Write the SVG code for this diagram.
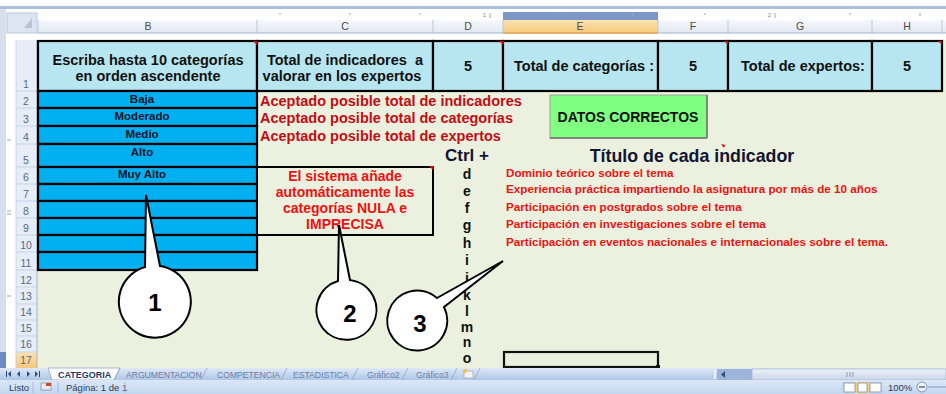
<svg xmlns="http://www.w3.org/2000/svg" width="946" height="394" viewBox="0 0 946 394">
<style>
text{font-family:"Liberation Sans",Arial,sans-serif}
.hdr{font-size:10.5px;fill:#4a4a4a;text-anchor:middle}
.rn{font-size:10.5px;fill:#586a86;text-anchor:middle}
.h1{font-size:14.5px;font-weight:bold;fill:#111;text-anchor:middle}
.cat{font-size:11.5px;font-weight:bold;fill:#141428;text-anchor:middle}
.ok{font-size:14.5px;font-weight:bold;fill:#c40c14}
.box{font-size:14px;font-weight:bold;fill:#ee1111;text-anchor:middle}
.ind{font-size:11.7px;font-weight:bold;fill:#ee1111}
.key{font-size:14px;font-weight:bold;fill:#111;text-anchor:middle}
.big{font-weight:bold;fill:#141432}
.num{font-size:24px;font-weight:bold;fill:#000;text-anchor:middle}
.tab{font-size:8.6px;fill:#6b7fa6}
.st{font-size:9.5px;fill:#2b3d5c}
.cell{stroke:#000;stroke-width:2.2}
.call{fill:#fff;stroke:#000;stroke-width:2;stroke-linejoin:miter}
.mark{fill:#e00}
</style>
<defs>
<linearGradient id="gh" x1="0" y1="0" x2="0" y2="1"><stop offset="0" stop-color="#f6f8fc"/><stop offset="1" stop-color="#e1e8f2"/></linearGradient>
<linearGradient id="go" x1="0" y1="0" x2="0" y2="1"><stop offset="0" stop-color="#fbe3b0"/><stop offset="1" stop-color="#f7c87a"/></linearGradient>
<linearGradient id="gt" x1="0" y1="0" x2="0" y2="1"><stop offset="0" stop-color="#dfe9f6"/><stop offset="1" stop-color="#aec6e6"/></linearGradient>
<linearGradient id="gs" x1="0" y1="0" x2="0" y2="1"><stop offset="0" stop-color="#dbe7f7"/><stop offset="1" stop-color="#c3d6ef"/></linearGradient>
<linearGradient id="gb" x1="0" y1="0" x2="0" y2="1"><stop offset="0" stop-color="#eef2f8"/><stop offset="1" stop-color="#c9d6e8"/></linearGradient>
</defs>

<!-- window chrome -->
<g id="chrome">
<rect x="0" y="0" width="946" height="394" fill="#fff"/>
<rect x="0" y="6" width="946" height="3" fill="#a9c0de"/>
<rect x="0" y="9" width="6" height="360" fill="#d6dfeb"/>
<!-- ruler -->
<rect x="37" y="12" width="909" height="8" fill="#fff"/>
<rect x="503" y="12" width="155" height="8" fill="#7d98c6"/>
<g stroke="#9aa" stroke-width="1">
<line x1="280" y1="13" x2="280" y2="15"/><line x1="350" y1="13" x2="350" y2="15"/><line x1="420" y1="13" x2="420" y2="15"/>
<line x1="490" y1="13" x2="490" y2="18"/><line x1="560" y1="13" x2="560" y2="15"/><line x1="633" y1="13" x2="633" y2="16"/>
<line x1="705" y1="13" x2="705" y2="15"/><line x1="775" y1="13" x2="775" y2="18"/><line x1="850" y1="13" x2="850" y2="15"/><line x1="920" y1="13" x2="920" y2="16"/>
</g>
<text x="486" y="17" style="font-size:6px;fill:#888;text-anchor:end">1</text>
<text x="771" y="17" style="font-size:6px;fill:#888;text-anchor:end">2</text>
<!-- corner -->
<rect x="7" y="13" width="30" height="20" fill="#dde5f0" stroke="#b7c7dc"/>
<path d="M32,18 L32,28 L24,28 Z" fill="#b6c4d8"/>
<!-- column headers -->
<rect x="37" y="20" width="909" height="13" fill="url(#gh)"/>
<rect x="503" y="20" width="155" height="13" fill="url(#go)"/>
<line x1="37" y1="33" x2="946" y2="33" stroke="#9eb6ce"/>
<line x1="503" y1="33" x2="658" y2="33" stroke="#f2a64a" stroke-width="1.5"/>
<g stroke="#b8c9dd" stroke-width="1">
<line x1="38" y1="20" x2="38" y2="33"/><line x1="257" y1="20" x2="257" y2="33"/><line x1="433" y1="20" x2="433" y2="33"/>
<line x1="503" y1="20" x2="503" y2="33"/><line x1="658" y1="20" x2="658" y2="33"/><line x1="728" y1="20" x2="728" y2="33"/>
<line x1="872" y1="20" x2="872" y2="33"/><line x1="942" y1="20" x2="942" y2="33"/>
</g>
<text class="hdr" x="148" y="30">B</text>
<text class="hdr" x="345" y="30">C</text>
<text class="hdr" x="468" y="30">D</text>
<text class="hdr" x="580" y="30">E</text>
<text class="hdr" x="693" y="30">F</text>
<text class="hdr" x="800" y="30">G</text>
<text class="hdr" x="907" y="30">H</text>
<!-- sheet background -->
<rect x="37" y="40" width="909" height="328" fill="#ebf1de"/>
<!-- row headers -->
<rect x="16" y="40" width="21" height="328" fill="#e6edf7"/>
<rect x="16" y="352" width="21" height="16" fill="url(#go)"/>
<rect x="0" y="352" width="6" height="16" fill="#6e8cc4"/>
<line x1="37" y1="40" x2="37" y2="368" stroke="#9eb6ce"/>
<line x1="16" y1="40" x2="16" y2="368" stroke="#c5d4e6"/>
<g stroke="#c5d4e6" stroke-width="1">
<line x1="16" y1="91" x2="37" y2="91"/><line x1="16" y1="108" x2="37" y2="108"/><line x1="16" y1="126" x2="37" y2="126"/>
<line x1="16" y1="144" x2="37" y2="144"/><line x1="16" y1="167" x2="37" y2="167"/><line x1="16" y1="184" x2="37" y2="184"/>
<line x1="16" y1="201" x2="37" y2="201"/><line x1="16" y1="218" x2="37" y2="218"/><line x1="16" y1="235" x2="37" y2="235"/>
<line x1="16" y1="252" x2="37" y2="252"/><line x1="16" y1="270" x2="37" y2="270"/><line x1="16" y1="287" x2="37" y2="287"/>
<line x1="16" y1="304" x2="37" y2="304"/><line x1="16" y1="320" x2="37" y2="320"/><line x1="16" y1="336" x2="37" y2="336"/>
<line x1="16" y1="352" x2="37" y2="352"/>
</g>
<g stroke="#8aa" stroke-width="1">
<line x1="7" y1="140" x2="11" y2="140"/><line x1="7" y1="211" x2="11" y2="211"/><line x1="7" y1="214" x2="11" y2="214"/><line x1="7" y1="296" x2="11" y2="296"/>
</g>
<text class="rn" x="26" y="88">1</text>
<text class="rn" x="26" y="105">2</text>
<text class="rn" x="26" y="123">3</text>
<text class="rn" x="26" y="141">4</text>
<text class="rn" x="26" y="164">5</text>
<text class="rn" x="26" y="181">6</text>
<text class="rn" x="26" y="198">7</text>
<text class="rn" x="26" y="215">8</text>
<text class="rn" x="26" y="232">9</text>
<text class="rn" x="26" y="249">10</text>
<text class="rn" x="26" y="267">11</text>
<text class="rn" x="26" y="284">12</text>
<text class="rn" x="26" y="300">13</text>
<text class="rn" x="26" y="316">14</text>
<text class="rn" x="26" y="332">15</text>
<text class="rn" x="26" y="348">16</text>
<text class="rn" x="26" y="364">17</text>
</g>

<!-- header row cells -->
<g id="row1">
<rect class="cell" x="38" y="41" width="219" height="50" fill="#b7e6f0"/>
<rect class="cell" x="257" y="41" width="176" height="50" fill="#b7e6f0"/>
<rect class="cell" x="433" y="41" width="70" height="50" fill="#b7e6f0"/>
<rect class="cell" x="503" y="41" width="155" height="50" fill="#b7e6f0"/>
<rect class="cell" x="658" y="41" width="70" height="50" fill="#b7e6f0"/>
<rect class="cell" x="728" y="41" width="144" height="50" fill="#b7e6f0"/>
<rect class="cell" x="872" y="41" width="70" height="50" fill="#b7e6f0"/>
<text class="h1" x="148" y="65">Escriba hasta 10 categorías</text>
<text class="h1" x="148" y="81">en orden ascendente</text>
<text class="h1" x="345" y="65">Total de indicadores&#160; a</text>
<text class="h1" x="342" y="81">valorar en los expertos</text>
<text class="h1" x="468" y="71">5</text>
<text class="h1" x="584" y="71">Total de categorías :</text>
<text class="h1" x="693" y="71">5</text>
<text class="h1" x="803" y="71">Total de expertos:</text>
<text class="h1" x="907" y="71">5</text>
<path class="mark" d="M253,41 L257,41 L257,45 Z"/>
<path class="mark" d="M499,41 L503,41 L503,45 Z"/>
<path class="mark" d="M724,41 L728,41 L728,45 Z"/>
<path class="mark" d="M938,41 L942,41 L942,45 Z"/>
</g>

<!-- categories column -->
<g id="categorias">
<rect class="cell" x="38" y="91" width="219" height="17" fill="#00b0f0"/>
<rect class="cell" x="38" y="108" width="219" height="18" fill="#00b0f0"/>
<rect class="cell" x="38" y="126" width="219" height="18" fill="#00b0f0"/>
<rect class="cell" x="38" y="144" width="219" height="23" fill="#00b0f0"/>
<rect class="cell" x="38" y="167" width="219" height="17" fill="#00b0f0"/>
<rect class="cell" x="38" y="184" width="219" height="17" fill="#00b0f0"/>
<rect class="cell" x="38" y="201" width="219" height="17" fill="#00b0f0"/>
<rect class="cell" x="38" y="218" width="219" height="17" fill="#00b0f0"/>
<rect class="cell" x="38" y="235" width="219" height="17" fill="#00b0f0"/>
<rect class="cell" x="38" y="252" width="219" height="18" fill="#00b0f0"/>
<text class="cat" x="142" y="103">Baja</text>
<text class="cat" x="142" y="120">Moderado</text>
<text class="cat" x="142" y="138">Medio</text>
<text class="cat" x="142" y="156">Alto</text>
<text class="cat" x="142" y="178">Muy Alto</text>
</g>

<!-- validation messages -->
<g id="mensajes">
<text class="ok" x="260" y="106">Aceptado posible total de indicadores</text>
<text class="ok" x="260" y="123">Aceptado posible total de categorías</text>
<text class="ok" x="260" y="141">Aceptado posible total de expertos</text>
</g>

<!-- button -->
<g id="boton">
<rect x="550" y="95" width="157" height="43" fill="#80ff80" stroke="#a0a0a0" stroke-width="1"/>
<line x1="707" y1="95" x2="707" y2="138" stroke="#707070" stroke-width="1.5"/>
<line x1="550" y1="138" x2="707" y2="138" stroke="#707070" stroke-width="1.5"/>
<text x="628" y="122" style="font-size:14px;font-weight:bold;fill:#111;text-anchor:middle">DATOS CORRECTOS</text>
</g>

<!-- note box -->
<g id="nota">
<rect x="257" y="167" width="176" height="68" fill="#ebf1de" stroke="#000" stroke-width="2"/>
<path class="mark" d="M429,166 L433,166 L433,170 Z"/>
<text class="box" x="345" y="181">El sistema añade</text>
<text class="box" x="345" y="197">automáticamente las</text>
<text class="box" x="345" y="213">categorías NULA e</text>
<text class="box" x="345" y="229">IMPRECISA</text>
</g>

<!-- indicators -->
<g id="indicadores">
<text class="big" x="445" y="161" style="font-size:17px">Ctrl +</text>
<text class="big" x="692" y="162" style="font-size:17.8px;text-anchor:middle">Título de cada indicador</text>
<path class="mark" d="M721,144 L725,145 L724,148 Z"/>
<text class="key" x="467" y="179">d</text>
<text class="key" x="467" y="196">e</text>
<text class="key" x="467" y="213">f</text>
<text class="key" x="467" y="230">g</text>
<text class="key" x="467" y="248">h</text>
<text class="key" x="467" y="265">i</text>
<text class="key" x="467" y="283">j</text>
<text class="key" x="467" y="300">k</text>
<text class="key" x="467" y="316">l</text>
<text class="key" x="467" y="332">m</text>
<text class="key" x="467" y="347">n</text>
<text class="key" x="467" y="363">o</text>
<text class="ind" x="506" y="177">Dominio teórico sobre el tema</text>
<text class="ind" x="506" y="193">Experiencia práctica impartiendo la asignatura por más de 10 años</text>
<text class="ind" x="506" y="211">Participación en postgrados sobre el tema</text>
<text class="ind" x="506" y="228">Participación en investigaciones sobre el tema</text>
<text class="ind" x="506" y="246">Participación en eventos nacionales e internacionales sobre el tema.</text>
</g>

<!-- selected cell -->
<g id="seleccion">
<rect x="504" y="352" width="154" height="15" fill="none" stroke="#111" stroke-width="2.2"/>
<rect x="656" y="365" width="4" height="4" fill="#111"/>
</g>

<!-- callouts with pointers -->
<g id="connectors">
<g id="callout-1">
<path class="call" d="M145,267 L146,195 L160,266 A36,36 0 1 1 145,267 Z"/>
<text class="num" x="155" y="311">1</text>
</g>
<g id="callout-2">
<path class="call" d="M338,281 L339,225 L350,280 A30,30 0 1 1 338,281 Z"/>
<text class="num" x="350" y="322">2</text>
</g>
<g id="callout-3">
<path class="call" d="M437,298 L503,261 L444,307 A30,30 0 1 1 437,298 Z"/>
<text class="num" x="420" y="332">3</text>
</g>
</g>

<!-- sheet tabs -->
<g id="tabs">
<rect x="0" y="368" width="713" height="12" fill="url(#gt)"/>
<g fill="#2b4b80">
<rect x="6" y="371" width="1" height="6"/><path d="M11,371 L8,374 L11,377 Z"/>
<path d="M20,371 L17,374 L20,377 Z"/>
<path d="M27,371 L30,374 L27,377 Z"/>
<path d="M35,371 L38,374 L35,377 Z"/><rect x="39" y="371" width="1" height="6"/>
</g>
<path d="M48,368 L120,368 L114,380 L52,380 Z" fill="#fff" stroke="#8ea6c8" stroke-width="0.8"/>
<g stroke="#8ea6c8" stroke-width="0.8" fill="none">
<path d="M120,368 L114,380"/><path d="M207,368 L201,380"/><path d="M287,368 L281,380"/>
<path d="M358,368 L352,380"/><path d="M408,368 L402,380"/><path d="M457,368 L451,380"/><path d="M480,368 L474,380"/>
</g>
<text x="58" y="378" style="font-size:9px;font-weight:bold;fill:#1f3a68">CATEGORIA</text>
<text class="tab" x="126" y="378">ARGUMENTACION</text>
<text class="tab" x="217" y="378">COMPETENCIA</text>
<text class="tab" x="293" y="378">ESTADISTICA</text>
<text class="tab" x="367" y="378">Gráfico2</text>
<text class="tab" x="416" y="378">Gráfico3</text>
<rect x="464" y="371" width="9" height="7" fill="#f3f3f3" stroke="#9aa" stroke-width="0.7"/>
<circle cx="465" cy="371" r="2" fill="#f0c040"/>
<!-- horizontal scrollbar -->
<rect x="713" y="368" width="233" height="12" fill="url(#gt)"/>
<rect x="714" y="370" width="2" height="9" fill="#eef"/>
<rect x="717" y="369" width="35" height="11" fill="#9db5da"/>
<path d="M725,371 L721,374.5 L725,378 Z" fill="#34507e"/>
<rect x="752" y="369" width="194" height="11" fill="url(#gb)" stroke="#9eb1cd" stroke-width="0.7"/>
<g stroke="#8a9ab5"><line x1="847" y1="372" x2="847" y2="377"/><line x1="850" y1="372" x2="850" y2="377"/><line x1="853" y1="372" x2="853" y2="377"/></g>
</g>

<!-- status bar -->
<g id="status">
<rect x="0" y="380" width="946" height="14" fill="url(#gs)"/>
<text class="st" x="9" y="391">Listo</text>
<line x1="33" y1="382" x2="33" y2="393" stroke="#a6bad6"/>
<rect x="41" y="383" width="10" height="7" fill="#e8ecf2" stroke="#7a8aa0" stroke-width="0.7"/>
<rect x="46" y="383" width="5" height="3" fill="#d04a2a"/>
<line x1="58" y1="382" x2="58" y2="393" stroke="#a6bad6"/>
<text class="st" x="66" y="391">Página: 1 de 1</text>
<line x1="125" y1="382" x2="125" y2="393" stroke="#a6bad6"/>
<rect x="842" y="382" width="40" height="11" fill="#c9d9ef"/>
<rect x="844" y="383" width="11" height="9" fill="#fff" stroke="#6c7f9c" stroke-width="0.7"/>
<rect x="856" y="382" width="13" height="11" fill="#f9cf7c"/>
<rect x="858" y="383" width="9" height="9" fill="#fff" stroke="#6c7f9c" stroke-width="0.7"/>
<rect x="870" y="383" width="11" height="9" fill="#fff" stroke="#6c7f9c" stroke-width="0.7"/>
<text class="st" x="888" y="391">100%</text>
<circle cx="922" cy="387" r="5" fill="#eef2f8" stroke="#6c7f9c" stroke-width="0.8"/>
<line x1="919" y1="387" x2="925" y2="387" stroke="#34507e" stroke-width="1.2"/>
<line x1="928" y1="387" x2="946" y2="387" stroke="#8a9ab5"/>
</g>
</svg>
